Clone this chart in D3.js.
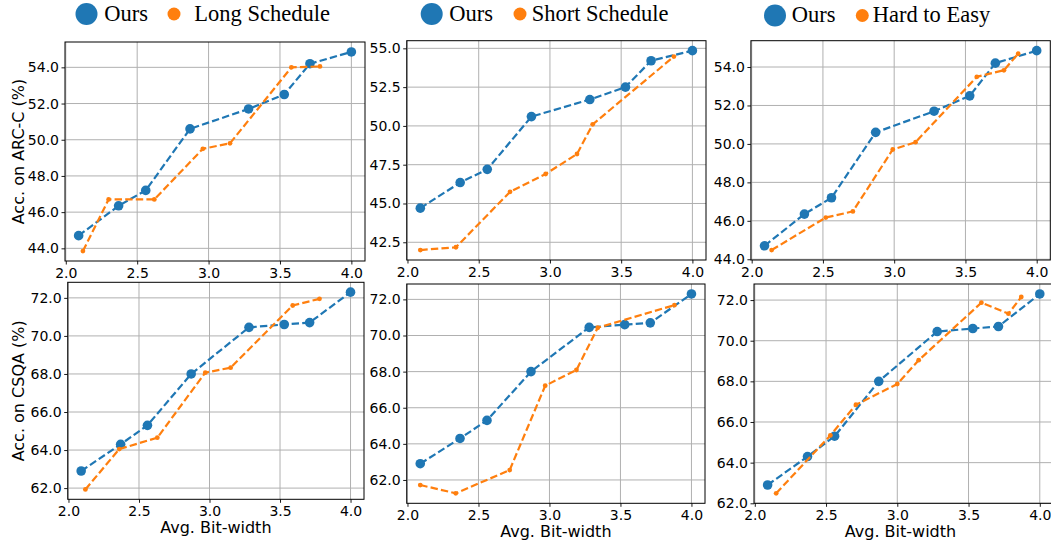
<!DOCTYPE html>
<html>
<head>
<meta charset="utf-8">
<script src="https://cdn.jsdelivr.net/npm/d3@7"></script>
<style>
  html, body { margin: 0; padding: 0; background: #fff; }
  svg { display: block; }
</style>
</head>
<body>
<svg id="chart" width="1051" height="544"></svg>
<script>
// ---------------- data ----------------
const xTicks = [2.0, 2.5, 3.0, 3.5, 4.0];
const arcTicks = [44, 46, 48, 50, 52, 54];
const arcShortTicks = [42.5, 45.0, 47.5, 50.0, 52.5, 55.0];
const csqaTicks = [62, 64, 66, 68, 70, 72];

const oursX = [2.09, 2.37, 2.56, 2.87, 3.28, 3.53, 3.71, 4.0];
const oursArc = [44.7, 46.35, 47.2, 50.6, 51.7, 52.5, 54.2, 54.85];
const oursCsqa = [62.9, 64.3, 65.3, 68.0, 70.45, 70.6, 70.7, 72.3];

const longArcX = [2.12, 2.30, 2.62, 2.96, 3.15, 3.58, 3.78];
const longArc = [43.85, 46.7, 46.7, 49.5, 49.8, 54.0, 54.05];
const longCsqaX = [2.12, 2.36, 2.63, 2.97, 3.15, 3.59, 3.78];
const longCsqa = [61.93, 64.05, 64.65, 68.07, 68.33, 71.6, 71.95];

const shortArcX = [2.09, 2.34, 2.72, 2.97, 3.19, 3.30, 3.87];
const shortArc = [42.0, 42.18, 45.75, 46.9, 48.19, 50.1, 54.47];
const shortCsqaX = [2.09, 2.34, 2.72, 2.97, 3.19, 3.34, 3.88];
const shortCsqa = [61.72, 61.26, 62.55, 67.22, 68.09, 70.43, 71.68];

const hardArcX = [2.14, 2.52, 2.71, 2.99, 3.15, 3.58, 3.77, 3.87];
const hardArc = [44.48, 46.17, 46.49, 49.71, 50.09, 53.49, 53.83, 54.69];
const hardCsqaX = [2.15, 2.53, 2.71, 3.0, 3.15, 3.59, 3.78, 3.87];
const hardCsqa = [62.49, 65.34, 66.85, 67.87, 69.04, 71.87, 71.33, 72.15];

const oursName = "Ours";
const altNames = ["Long Schedule", "Short Schedule", "Hard to Easy"];
const yLabels = ["Acc. on ARC-C (%)", "Acc. on CSQA (%)"];
const xLabel = "Avg. Bit-width";

// ---------------- layout ----------------
const BLUE = "#1f77b4", ORANGE = "#ff7f0e";
const svg = d3.select("#chart");

const panels = [
  {box:[65, 365, 42, 261],       ox: oursX, oy: oursArc,  ax: longArcX,  ay: longArc,  yt: arcTicks,      row:0, col:0},
  {box:[406.7, 706, 40.7, 260],  ox: oursX, oy: oursArc,  ax: shortArcX, ay: shortArc, yt: arcShortTicks, row:0, col:1},
  {box:[750.9, 1050.3, 40.7, 260], ox: oursX, oy: oursArc, ax: hardArcX, ay: hardArc,  yt: arcTicks,      row:0, col:2},
  {box:[67.7, 364, 282.3, 499.3], ox: oursX, oy: oursCsqa, ax: longCsqaX, ay: longCsqa, yt: csqaTicks,    row:1, col:0},
  {box:[406.7, 705, 284, 503.3], ox: oursX, oy: oursCsqa, ax: shortCsqaX, ay: shortCsqa, yt: csqaTicks,   row:1, col:1},
  {box:[754, 1053.4, 284, 503.3], ox: oursX, oy: oursCsqa, ax: hardCsqaX, ay: hardCsqa, yt: csqaTicks,    row:1, col:2}
];

function pad(ext) { const r = ext[1] - ext[0]; return [ext[0] - 0.05 * r, ext[1] + 0.05 * r]; }

panels.forEach(p => {
  const [L, R, T, B] = p.box;
  const x = d3.scaleLinear().domain(pad(d3.extent(p.ox.concat(p.ax)))).range([L, R]);
  const y = d3.scaleLinear().domain(pad(d3.extent(p.oy.concat(p.ay)))).range([B, T]);
  const g = svg.append("g");

  // grid
  g.append("g").selectAll("line").data(xTicks).join("line")
    .attr("x1", d => x(d)).attr("x2", d => x(d)).attr("y1", T).attr("y2", B)
    .attr("stroke", "#b0b0b0").attr("stroke-width", 1);
  g.append("g").selectAll("line").data(p.yt).join("line")
    .attr("y1", d => y(d)).attr("y2", d => y(d)).attr("x1", L).attr("x2", R)
    .attr("stroke", "#b0b0b0").attr("stroke-width", 1);

  // axes
  const xa = g.append("g").attr("transform", `translate(0,${B})`)
    .call(d3.axisBottom(x).tickValues(xTicks).tickFormat(d3.format(".1f")).tickSize(3.5).tickPadding(3.5));
  const ya = g.append("g").attr("transform", `translate(${L},0)`)
    .call(d3.axisLeft(y).tickValues(p.yt).tickFormat(d3.format(".1f")).tickSize(3.5).tickPadding(2.5));
  [xa, ya].forEach(a => {
    a.select(".domain").remove();
    a.selectAll("text").attr("font-family", "DejaVu Sans").attr("font-size", 14).attr("fill", "#000");
    a.selectAll("line").attr("stroke", "#000").attr("stroke-width", 0.9);
  });

  // spines
  g.append("rect").attr("x", L).attr("y", T).attr("width", R - L).attr("height", B - T)
    .attr("fill", "none").attr("stroke", "#000").attr("stroke-width", 1);

  const line = d3.line().x(d => x(d[0])).y(d => y(d[1]));
  const oursPts = p.ox.map((v, i) => [v, p.oy[i]]);
  const altPts = p.ax.map((v, i) => [v, p.ay[i]]);

  g.append("path").datum(oursPts).attr("d", line).attr("fill", "none")
    .attr("stroke", BLUE).attr("stroke-width", 2.2).attr("stroke-dasharray", "7.4,3.2");
  g.append("g").selectAll("circle").data(oursPts).join("circle")
    .attr("cx", d => x(d[0])).attr("cy", d => y(d[1])).attr("r", 4.8).attr("fill", BLUE);

  g.append("path").datum(altPts).attr("d", line).attr("fill", "none")
    .attr("stroke", ORANGE).attr("stroke-width", 2.2).attr("stroke-dasharray", "7.4,3.2");
  g.append("g").selectAll("circle").data(altPts).join("circle")
    .attr("cx", d => x(d[0])).attr("cy", d => y(d[1])).attr("r", 2.4).attr("fill", ORANGE);

  if (p.col === 0) {
    svg.append("text").attr("transform", `translate(18,${(T + B) / 2}) rotate(-90)`)
      .attr("text-anchor", "middle").attr("dominant-baseline", "central")
      .attr("font-family", "DejaVu Sans").attr("font-size", 16).text(yLabels[p.row]);
  }
  if (p.row === 1) {
    svg.append("text").attr("x", (L + Math.min(R, 1051)) / 2 - (p.col === 2 ? 2 : 0)).attr("y", B + 34)
      .attr("text-anchor", "middle").attr("font-family", "DejaVu Sans").attr("font-size", 16).text(xLabel);
  }
});

// legends
const legends = [
  {bx: 86.5, tx1: 104.3, ox: 174, tx2: 194.3, cy: 14, by: 21},
  {bx: 431.7, tx1: 449.3, ox: 520, tx2: 531.7, cy: 14, by: 21},
  {bx: 775, tx1: 791.7, ox: 862.3, tx2: 872.7, cy: 15.5, by: 22}
];
legends.forEach((l, i) => {
  const g = svg.append("g");
  g.append("circle").attr("cx", l.bx).attr("cy", l.cy).attr("r", 11).attr("fill", BLUE);
  g.append("text").attr("x", l.tx1).attr("y", l.by).attr("font-family", "Liberation Serif")
    .attr("font-size", 22.5).text(oursName);
  g.append("circle").attr("cx", l.ox).attr("cy", l.cy).attr("r", 6.5).attr("fill", ORANGE);
  g.append("text").attr("x", l.tx2).attr("y", l.by).attr("font-family", "Liberation Serif")
    .attr("font-size", 22.5).text(altNames[i]);
});
</script>
</body>
</html>
